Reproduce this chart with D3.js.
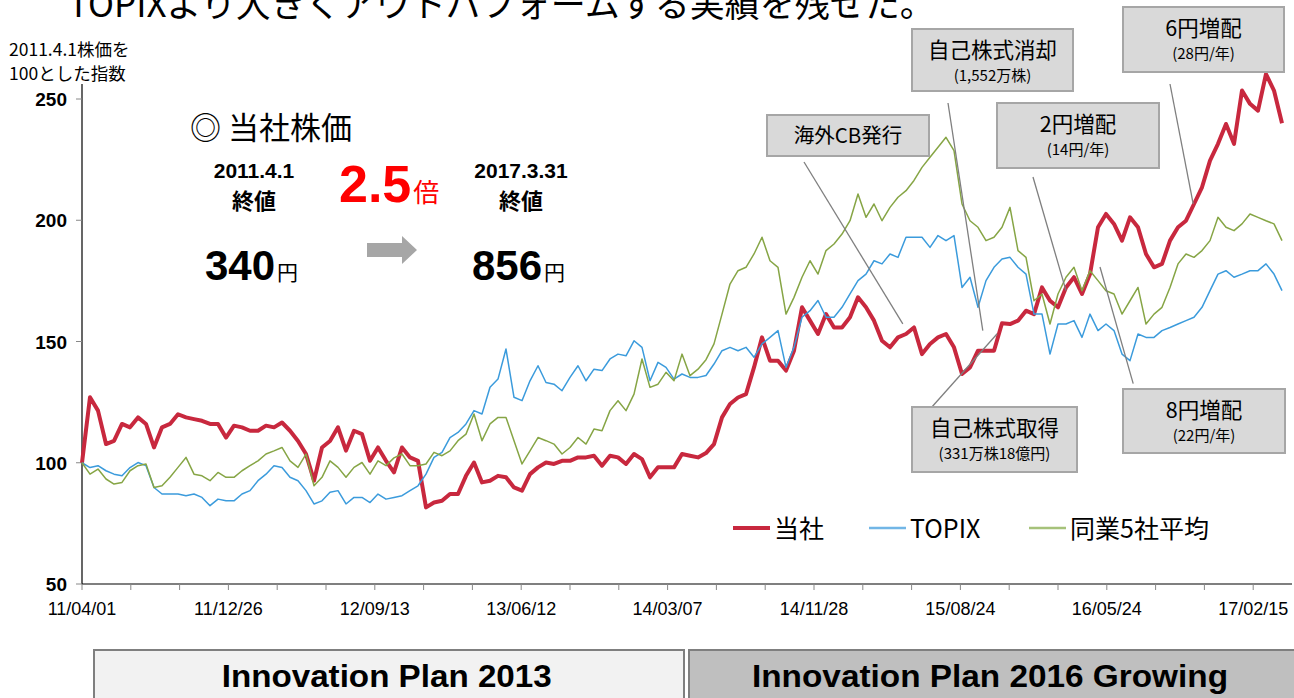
<!DOCTYPE html>
<html>
<head>
<meta charset="utf-8">
<script src="https://cdn.jsdelivr.net/npm/d3@7"></script>
<style>
  body { margin: 0; background: #fff; }
  svg { display: block; }
  text { font-family: "Noto Sans CJK JP", "Noto Sans", sans-serif; }
  .num { font-family: "Liberation Sans", Arial, sans-serif; }
</style>
</head>
<body>
<script>
// 2011.4.1 = 100 index, one sample every 10 trading days
const dayStep = 10

const companyIdx = [
  100, 127, 121.5, 107.7, 109, 116, 114.6, 118.7, 116, 106.3,
  114.6, 116, 120, 118.7, 118, 117.3, 116, 116, 110.4, 115.3,
  114.6, 113.2, 113.2, 115.3, 114.6, 116.6, 113.2, 109, 103.6, 92.6,
  106.3, 109, 114.6, 105, 113.2, 111.8, 100.8, 106.3, 100.8, 96,
  106.3, 102.2, 100.8, 81.6, 83.6, 84.3, 87.1, 87.1, 94.6, 100.1,
  91.9, 92.6, 94.6, 94, 89.8, 88.5, 95.3, 98.1, 100.1, 99.5,
  100.8, 100.8, 102.2, 102.2, 102.9, 98.8, 102.9, 102.2, 99.5, 103.6,
  101.5, 94, 98.1, 98.1, 98.1, 103.6, 102.9, 102.2, 104, 107.7,
  118.7, 124.2, 126.9, 128.3, 139.3, 151.7, 142.1, 142.1, 138, 146.2,
  164.1, 158.6, 153.1, 161.3, 155.8, 155.8, 160, 168.2, 164.1, 158.6,
  150.3, 147.6, 151.7, 153.1, 155.8, 144.8, 149, 151.7, 153.1, 147.6,
  136.6, 139.3, 146.2, 146.2, 146.2, 157.5, 157.2, 158.6, 162.7, 161.3,
  172.3, 166.8, 164.1, 172.3, 176.5, 169.6, 177.8, 197.1, 202.6, 198.5,
  191.6, 201.2, 197.1, 186.1, 180.6, 182, 191.6, 197.1, 199.8, 206.7,
  213.6, 224.6, 231.5, 239.7, 231.5, 253.5, 248, 245.2, 260.3, 253.5,
  240
]

const topixIdx = [
  100, 98, 98.8, 96.7, 95.3, 94.6, 98, 100.1, 98.8, 89.8,
  87.1, 87.1, 87.1, 86.4, 87.1, 85.7, 82.3, 85, 84.3, 84.3,
  87.1, 88.5, 92.6, 95.3, 98.8, 98, 94, 92.6, 88.5, 83,
  84.3, 87.8, 88.5, 83, 85.7, 85.7, 83.6, 87.1, 85, 85.7,
  86.4, 88.5, 90.5, 95.3, 102.2, 104.3, 110.4, 112.5, 116, 121.5,
  120.1, 131.1, 134.5, 146.9, 127, 125.6, 133.8, 140, 133.1, 132.4,
  129.7, 135.2, 140, 133.8, 138.6, 138, 142.8, 144.8, 144.1, 150.3,
  147.6, 133.8, 141.4, 139.3, 134.5, 136.6, 135.2, 135.2, 136, 140.7,
  146.2, 147.6, 146.2, 147.6, 143.5, 149, 151.7, 154.5, 139.3, 147.6,
  160, 162.7, 166.9, 160, 160, 164.1, 169.6, 175.1, 177.8, 183.3,
  182, 186.1, 184.7, 193, 193, 193, 188.8, 193.7, 191.6, 193.7,
  172.3, 176.5, 164.1, 175.1, 180.6, 184, 184.7, 180.6, 177.8, 161.3,
  161.3, 144.8, 157.2, 157.2, 158.6, 151.7, 161.3, 154.5, 157.2, 154.5,
  144.8, 142.1, 153.1, 151.7, 151.7, 154.5, 155.8, 157.2, 158.6, 160,
  164.1, 171, 177.8, 179.2, 176.5, 177.8, 179.2, 179.2, 182, 177.8,
  171
]

const peersIdx = [
  100, 95.3, 97.4, 93.3, 91.2, 91.9, 96.7, 98.8, 99.5, 89.8,
  90.5, 94, 98.1, 102.2, 95.3, 94.6, 92.6, 96, 94, 94,
  96.7, 98.8, 100.8, 103.6, 104.9, 106.3, 100.8, 98.1, 103.6, 90.5,
  94, 100.8, 98.1, 94, 98.1, 100.1, 95.3, 100.8, 98.8, 102,
  103.6, 98.8, 98.8, 99.5, 104.3, 102.9, 104.9, 109.1, 111.8, 120.1,
  109.1, 116, 118.7, 118.7, 109.1, 99.5, 104.9, 110.4, 109.1, 107.7,
  103.6, 106.3, 110.4, 107.7, 113.9, 113.2, 121.5, 125.6, 121.5, 128.3,
  142.8, 131.1, 132.4, 137.3, 133.8, 144.8, 135.9, 138.6, 142.5, 149,
  161.3, 173.7, 179.2, 180.6, 186.1, 193, 183.3, 180.6, 161.3, 168.2,
  176.5, 183.3, 177.8, 187.5, 190.2, 194.3, 199.8, 210.8, 201.2, 206.7,
  199.8, 205.3, 209.5, 212.2, 216.4, 221.8, 226, 230.1, 234.2, 228.7,
  206.7, 199.8, 197.1, 191.6, 193, 197.1, 205.3, 187.5, 184.7, 166.8,
  169.6, 157.2, 169.6, 176.5, 180.6, 170.9, 179.2, 175.1, 170.9, 169.6,
  161.3, 166.8, 172.3, 157.2, 161.3, 164.1, 172.3, 182, 186.1, 184.7,
  187.5, 191.6, 201.2, 197.1, 195.7, 198.5, 202.6, 201.2, 199.8, 198.5,
  191.6
]

const seriesNames = ['当社', 'TOPIX', '同業5社平均']
const xTickLabels = ['11/04/01', '11/12/26', '12/09/13', '13/06/12', '14/03/07', '14/11/28', '15/08/24', '16/05/24', '17/02/15']
const yTicks = [50, 100, 150, 200, 250]

// annotations: text + the (day, index) point the leader line points to
const noteLabels = ['海外CB発行', '自己株式消却', '自己株式取得', '2円増配', '8円増配', '6円増配']
const noteSubs = ['', '(1,552万株)', '(331万株18億円)', '(14円/年)', '(22円/年)', '(28円/年)']
const noteDays = [1026, 1126, 1144, 1230, 1314, 1389]
const noteValues = [157.3, 154.5, 153.2, 171, 132.6, 206.8]

const planLabels = ['Innovation Plan 2013', 'Innovation Plan 2016 Growing']

// layout
const width = 1294
const height = 698
const colors = ['#c8283e', '#3b9bdc', '#86a545']
const legendColors = ['#c8283e', '#72b6e6', '#a6c27a']
const lineWidths = [4, 1.5, 1.5]

const svg = d3.select('body').append('svg')
  .attr('width', width)
  .attr('height', height)

// scales
const x = d3.scaleLinear().domain([0, 1510]).range([82, 1290])
const y = d3.scaleLinear().domain([50, 250]).range([584, 99])

// title (cut at top of slide, as on the original)
svg.append('text')
  .attr('x', 68).attr('y', 17)
  .attr('font-size', 35)
  .text('TOPIXより大きくアウトパフォームする実績を残せた。')

// y-axis caption
svg.append('text').attr('x', 9).attr('y', 56).attr('font-size', 17.5).text('2011.4.1株価を')
svg.append('text').attr('x', 9).attr('y', 80).attr('font-size', 17.5).text('100とした指数')

// axes
const axes = svg.append('g')
axes.append('line')
  .attr('x1', 82).attr('x2', 82).attr('y1', y(256.2)).attr('y2', 584)
  .attr('stroke', '#000').attr('stroke-width', 1.2)
axes.append('line')
  .attr('x1', 82).attr('x2', 1292).attr('y1', 584).attr('y2', 584)
  .attr('stroke', '#000').attr('stroke-width', 1.2)

axes.selectAll('.ytick')
  .data(yTicks)
  .enter()
  .append('line')
  .attr('x1', 76).attr('x2', 82)
  .attr('y1', d => y(d)).attr('y2', d => y(d))
  .attr('stroke', '#888')

axes.selectAll('.ylab')
  .data(yTicks)
  .enter()
  .append('text')
  .attr('class', 'num')
  .attr('x', 67)
  .attr('y', d => y(d) + 7)
  .attr('text-anchor', 'end')
  .attr('font-size', 19)
  .attr('font-weight', 'bold')
  .text(d => d)

const minorTicks = d3.range(0, 1510, 61)
axes.selectAll('.xtick')
  .data(minorTicks)
  .enter()
  .append('line')
  .attr('x1', d => x(d)).attr('x2', d => x(d))
  .attr('y1', 584).attr('y2', 590)
  .attr('stroke', '#888')

axes.selectAll('.xlab')
  .data(xTickLabels)
  .enter()
  .append('text')
  .attr('class', 'num')
  .attr('x', (d, i) => x(i * 183))
  .attr('y', 615)
  .attr('text-anchor', 'middle')
  .attr('font-size', 18)
  .text(d => d)

// lines
const allSeries = [companyIdx, topixIdx, peersIdx]
const line = d3.line()
  .x((d, i) => x(i * dayStep))
  .y(d => y(d))

svg.append('g')
  .selectAll('path')
  .data(allSeries)
  .enter()
  .append('path')
  .attr('d', d => line(d))
  .attr('fill', 'none')
  .attr('stroke', (d, i) => colors[i])
  .attr('stroke-width', (d, i) => lineWidths[i])
  .attr('stroke-linejoin', 'round')

// legend
const legendX = [733, 869, 1029]
const legend = svg.append('g')
seriesNames.forEach((name, i) => {
  legend.append('line')
    .attr('x1', legendX[i]).attr('x2', legendX[i] + 37)
    .attr('y1', 528).attr('y2', 528)
    .attr('stroke', legendColors[i])
    .attr('stroke-width', i === 0 ? 4 : 2.5)
  legend.append('text')
    .attr('x', legendX[i] + 41).attr('y', 538)
    .attr('font-size', 25)
    .text(name)
})

// headline block
const block = svg.append('g')
block.append('text').attr('x', 190).attr('y', 139).attr('font-size', 31).text('◎ 当社株価')
;[[254, '2011.4.1', '340'], [521, '2017.3.31', '856']].forEach(([cx, date, price]) => {
  block.append('text').attr('class', 'num').attr('x', cx).attr('y', 178)
    .attr('text-anchor', 'middle').attr('font-size', 21).attr('font-weight', 'bold').text(date)
  block.append('text').attr('x', cx).attr('y', 209)
    .attr('text-anchor', 'middle').attr('font-size', 22).attr('font-weight', 'bold').text('終値')
  const t = block.append('text').attr('x', cx - 49).attr('y', 280)
  t.append('tspan').attr('class', 'num').attr('font-size', 42).attr('font-weight', 'bold').text(price)
  t.append('tspan').attr('font-size', 21).attr('dx', 2).text('円')
})
const ratio = block.append('text').attr('x', 339).attr('y', 202).attr('fill', '#ff0000')
ratio.append('tspan').attr('class', 'num').attr('font-size', 52).attr('font-weight', 'bold').text('2.5')
ratio.append('tspan').attr('font-size', 26).attr('dx', 2).text('倍')
block.append('path')
  .attr('d', 'M367,243 H402 V236 L417,250 L402,264 V257 H367 Z')
  .attr('fill', '#a6a6a6')

// annotations
const noteBoxes = [
  [767, 115, 162, 41], [912, 29, 161, 62], [912, 407, 165, 65],
  [997, 103, 162, 65], [1123, 389, 162, 64], [1123, 7, 161, 65]
]
const noteFrom = [[804, 162], [948, 103], [931, 408], [1033, 177], [1100, 267], [1170, 84]]
const notes = svg.append('g')
noteLabels.forEach((label, i) => {
  const [bx, by, bw, bh] = noteBoxes[i]
  notes.append('line')
    .attr('x1', noteFrom[i][0]).attr('y1', noteFrom[i][1])
    .attr('x2', x(noteDays[i])).attr('y2', y(noteValues[i]))
    .attr('stroke', '#7f7f7f').attr('stroke-width', 1.3)
  notes.append('rect')
    .attr('x', bx).attr('y', by).attr('width', bw).attr('height', bh)
    .attr('fill', '#d9d9d9').attr('stroke', '#a6a6a6').attr('stroke-width', 2)
  const single = noteSubs[i] === ''
  notes.append('text')
    .attr('x', bx + bw / 2)
    .attr('y', single ? by + 28 : by + 29)
    .attr('text-anchor', 'middle')
    .attr('font-size', single ? 20.5 : 21.5)
    .text(label)
  if (!single) {
    notes.append('text')
      .attr('x', bx + bw / 2).attr('y', by + 52)
      .attr('text-anchor', 'middle')
      .attr('font-size', 15)
      .text(noteSubs[i])
  }
})

// plan bars
const planBoxes = [[94, 590, '#f2f2f2', 330], [689, 610, '#bfbfbf', 476]]
planLabels.forEach((label, i) => {
  const [px, pw, fill, tw] = planBoxes[i]
  svg.append('rect')
    .attr('x', px).attr('y', 650).attr('width', pw).attr('height', 60)
    .attr('fill', fill).attr('stroke', '#7f7f7f').attr('stroke-width', 2)
  svg.append('text')
    .attr('class', 'num')
    .attr('x', i === 0 ? 386.7 : 990).attr('y', 687)
    .attr('text-anchor', 'middle')
    .attr('font-size', 32).attr('font-weight', 'bold')
    .attr('textLength', tw).attr('lengthAdjust', 'spacingAndGlyphs')
    .text(label)
})
</script>
</body>
</html>
